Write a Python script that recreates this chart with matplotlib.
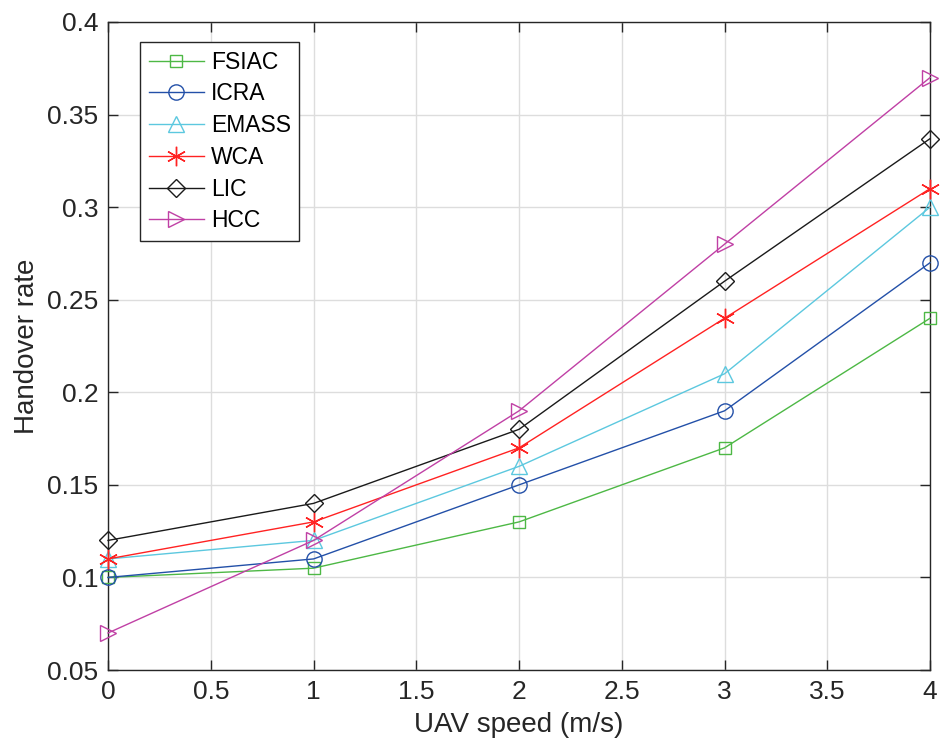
import matplotlib
matplotlib.use('Agg')
import matplotlib.pyplot as plt

plt.rcParams['font.family'] = ['Liberation Sans', 'DejaVu Sans']

speed = [0, 1, 2, 3, 4]
fsiac = [0.10, 0.105, 0.13, 0.17, 0.24]
icra = [0.10, 0.11, 0.15, 0.19, 0.27]
emass = [0.11, 0.12, 0.16, 0.21, 0.30]
wca = [0.11, 0.13, 0.17, 0.24, 0.31]
lic = [0.12, 0.14, 0.18, 0.26, 0.337]
hcc = [0.07, 0.12, 0.19, 0.28, 0.37]

series = [
    ('FSIAC', fsiac, '#4DB845', 's', 9),
    ('ICRA', icra, '#2350A8', 'o', 11),
    ('EMASS', emass, '#5CC8DF', '^', 12),
    ('WCA', wca, '#FF2222', '*', 14),
    ('LIC', lic, '#1A1A1A', 'D', 9),
    ('HCC', hcc, '#C040A5', '>', 12),
]

fig = plt.figure(figsize=(9.51, 7.53), dpi=100)
ax = fig.add_axes([0.1136, 0.1102, 0.8644, 0.8606])

for name, vals, col, mk, ms in series:
    if mk == '*':
        ax.plot(speed, vals, color=col, lw=1.0, marker=(6, 2, 0), ms=ms,
                mec=col, mew=1.0, label=name, clip_on=False, zorder=3)
    else:
        ax.plot(speed, vals, color=col, lw=1.0, marker=mk, ms=ms,
                mfc='none', mec=col, mew=1.0, label=name, clip_on=False,
                zorder=3)

ax.set_xlim(0, 4)
ax.set_ylim(0.05, 0.4)
ax.set_xticks([0, 0.5, 1, 1.5, 2, 2.5, 3, 3.5, 4])
ax.set_xticklabels(['0', '0.5', '1', '1.5', '2', '2.5', '3', '3.5', '4'])
ax.set_yticks([0.05, 0.1, 0.15, 0.2, 0.25, 0.3, 0.35, 0.4])
ax.set_yticklabels(['0.05', '0.1', '0.15', '0.2', '0.25', '0.3', '0.35', '0.4'])
ax.grid(True, color='#DDDDDD', lw=1.0)
ax.set_axisbelow(True)
ax.tick_params(direction='in', top=True, right=True, labelsize=19,
               colors='#262626', length=7, width=1.0, pad=7)
for s in ax.spines.values():
    s.set_color('#262626')
    s.set_linewidth(1.0)

ax.set_xlabel('UAV speed (m/s)', fontsize=20, color='#262626', labelpad=6)
ax.set_ylabel('Handover rate', fontsize=20, color='#262626', labelpad=5)

leg = ax.legend(loc='upper left', bbox_to_anchor=(0.039, 0.969), fontsize=16.5,
                fancybox=False, framealpha=1, edgecolor='#262626',
                handlelength=2.4, borderpad=0.38, labelspacing=0.38,
                handletextpad=0.3, borderaxespad=0)
leg.get_frame().set_linewidth(1.0)

fig.savefig('out.png', dpi=100)
